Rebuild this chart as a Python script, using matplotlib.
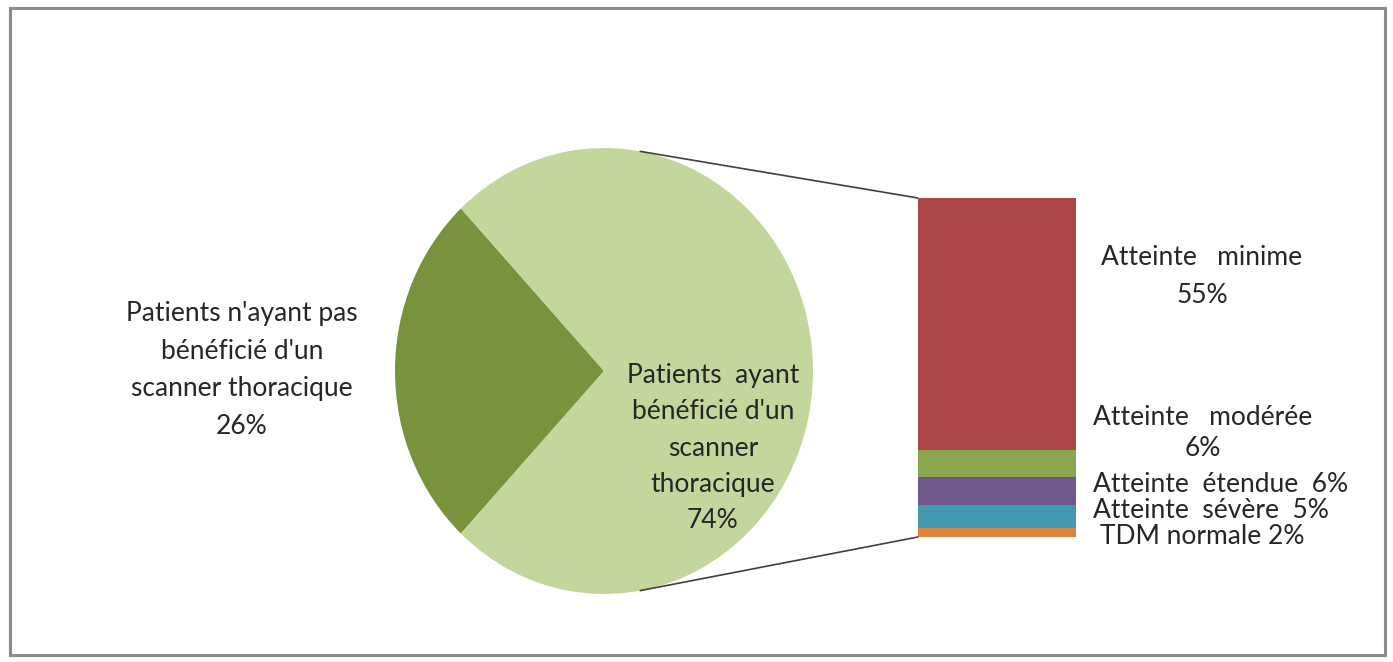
import matplotlib
matplotlib.use("Agg")
import numpy as np
import matplotlib.pyplot as plt
from matplotlib.patches import Rectangle, ConnectionPatch

plt.rcParams['font.family'] = ['Lato', 'DejaVu Sans']

# Donnees
pie_labels = ["Patients n'ayant pas\nbénéficié d'un\nscanner thoracique",
              "Patients  ayant\nbénéficié d'un\nscanner\nthoracique"]
pie_values = [26, 74]
pie_colors = ['#77933C', '#C3D69B']

bar_labels = ["TDM normale", "Atteinte  sévère", "Atteinte  étendue",
              "Atteinte   modérée", "Atteinte   minime"]
bar_values = [2, 5, 6, 6, 55]
bar_colors = ['#DB843D', '#4198AF', '#71588F', '#89A54E', '#AA4643']

W, H = 1393, 662
fig = plt.figure(figsize=(W / 100, H / 100), dpi=100)


def box(x0, y0, x1, y1):
    # pixels -> fraction de la figure
    return [x0 / W, 1 - y1 / H, (x1 - x0) / W, (y1 - y0) / H]


def pt(x, y):
    return (x / W, 1 - y / H)


# cadre
fig.patches.append(Rectangle(pt(10, 655), 1375 / W, 647 / H, transform=fig.transFigure,
                             fill=False, edgecolor='#8c8c8c', linewidth=2.2))

# camembert
ax_pie = fig.add_axes(box(395, 148, 813, 594))
half = pie_values[0] / 100 * 360 / 2
ax_pie.pie(pie_values, colors=pie_colors, startangle=180 - half, counterclock=True,
           wedgeprops=dict(linewidth=0))
ax_pie.set_xlim(-1, 1)
ax_pie.set_ylim(-1, 1)
ax_pie.set_aspect('auto')
ax_pie.axis('off')

# barre empilee
ax_bar = fig.add_axes(box(918, 198, 1076, 537))
bottom = 0
for v, c in zip(bar_values, bar_colors):
    ax_bar.bar(0, v, bottom=bottom, width=1, color=c, linewidth=0)
    bottom += v
ax_bar.set_xlim(-0.5, 0.5)
ax_bar.set_ylim(0, sum(bar_values))
ax_bar.axis('off')

# lignes de liaison
a = np.deg2rad(80)
for yb, s in [(sum(bar_values), 1), (0, -1)]:
    con = ConnectionPatch(xyA=(np.cos(a), s * np.sin(a)), coordsA=ax_pie.transData,
                          xyB=(-0.5, yb), coordsB=ax_bar.transData,
                          color='#404040', linewidth=1.2)
    fig.add_artist(con)

# etiquettes
fs = 19
tc = '#262626'
fig.text(*pt(242, 370), f"{pie_labels[0]}\n{pie_values[0]}%", ha='center', va='center',
         fontsize=fs, color=tc, linespacing=1.63)
fig.text(*pt(713, 448), f"{pie_labels[1]}\n{pie_values[1]}%", ha='center', va='center',
         fontsize=fs, color=tc, linespacing=1.57)

fig.text(*pt(1202, 276), f"{bar_labels[4]}\n{bar_values[4]}%", ha='center', va='center',
         fontsize=fs, color=tc, linespacing=1.65)
fig.text(*pt(1203, 433), f"{bar_labels[3]}\n{bar_values[3]}%", ha='center', va='center',
         fontsize=fs, color=tc, linespacing=1.34)
fig.text(*pt(1093, 485), f"{bar_labels[2]}  {bar_values[2]}%", ha='left', va='center',
         fontsize=fs, color=tc)
fig.text(*pt(1093, 511), f"{bar_labels[1]}  {bar_values[1]}%", ha='left', va='center',
         fontsize=fs, color=tc)
fig.text(*pt(1100, 536), f"{bar_labels[0]} {bar_values[0]}%", ha='left', va='center',
         fontsize=fs, color=tc)

fig.savefig('out.png', dpi=100)
